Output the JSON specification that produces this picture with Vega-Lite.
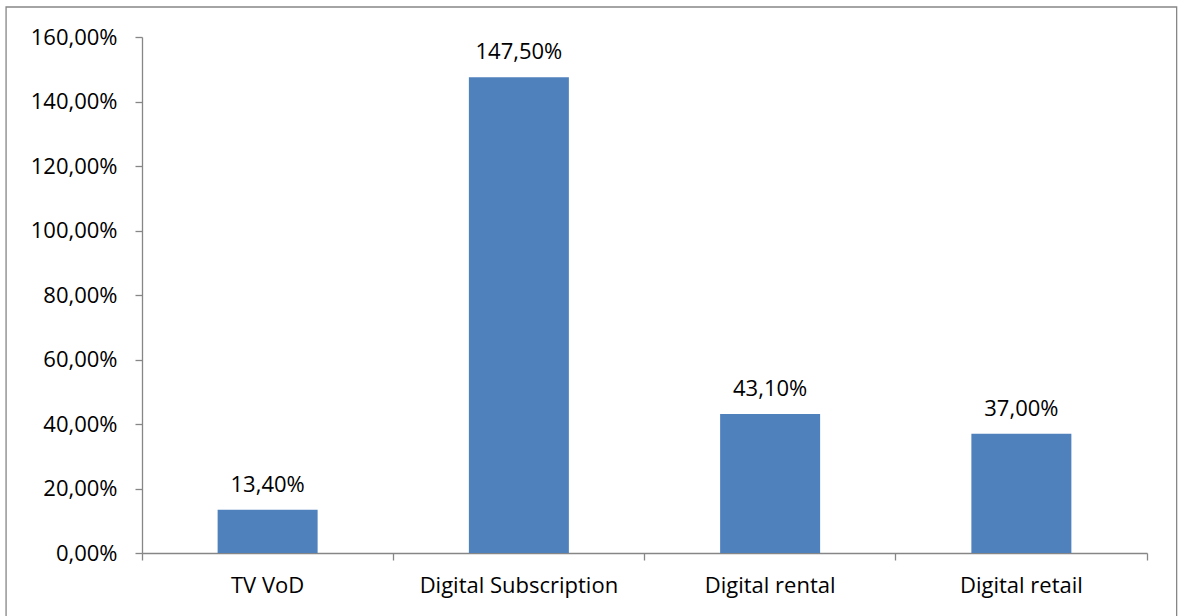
{
  "$schema": "https://vega.github.io/schema/vega-lite/v6.json",
  "autosize": {"type": "none"},
  "width": 1005,
  "height": 516,
  "padding": {"left": 142, "top": 37, "right": 37, "bottom": 63},
  "background": "white",
  "config": {
    "view": {"stroke": null},
    "locale": {"number": {"decimal": ",", "thousands": ".", "grouping": [3], "currency": ["", " €"]}},
    "font": "Open Sans"
  },
  "layer": [
    {
      "data": {"values": [
        {"category": "TV VoD", "share": 0.134},
        {"category": "Digital Subscription", "share": 1.475},
        {"category": "Digital rental", "share": 0.431},
        {"category": "Digital retail", "share": 0.37}
      ]},
      "layer": [
        {
          "mark": {"type": "bar", "color": "#4F81BD", "width": {"band": 0.398}},
          "encoding": {
            "x": {
              "field": "category", "type": "nominal", "sort": null,
              "scale": {"paddingInner": 0, "paddingOuter": 0},
              "axis": {
                "title": null, "labelAngle": 0, "bandPosition": 1, "tickExtra": true,
                "domainColor": "#868686", "domainWidth": 1.3,
                "tickColor": "#868686", "tickWidth": 1.3, "tickSize": 7,
                "labelFont": "Open Sans", "labelFontSize": 22, "labelColor": "#000000",
                "labelPadding": 15, "labelLimit": 0, "grid": false
              }
            },
            "y": {
              "field": "share", "type": "quantitative",
              "scale": {"domain": [0, 1.6], "nice": false},
              "axis": {
                "title": null, "values": [0, 0.2, 0.4, 0.6, 0.8, 1.0, 1.2, 1.4, 1.6],
                "format": ".2%", "grid": false, "domainColor": "#868686", "domainWidth": 1.3,
                "tickColor": "#868686", "tickWidth": 1.3, "tickSize": 7,
                "labelFont": "Open Sans", "labelFontSize": 22, "labelColor": "#000000",
                "labelPadding": 18
              }
            }
          }
        },
        {
          "mark": {"type": "text", "baseline": "alphabetic", "dy": -18, "font": "Open Sans", "fontSize": 22, "color": "#000000"},
          "encoding": {
            "x": {"field": "category", "type": "nominal", "sort": null},
            "y": {"field": "share", "type": "quantitative"},
            "text": {"field": "share", "type": "quantitative", "format": ".2%"}
          }
        }
      ]
    },
    {
      "data": {"values": [{}]},
      "mark": {"type": "rect", "fill": null, "stroke": "#868686", "strokeWidth": 1.3, "clip": false},
      "encoding": {
        "x": {"datum": "TV VoD", "type": "nominal", "bandPosition": -0.541},
        "x2": {"datum": "Digital retail", "bandPosition": 1.118},
        "y": {"datum": -0.1984, "type": "quantitative"},
        "y2": {"datum": 1.693}
      }
    }
  ]
}
